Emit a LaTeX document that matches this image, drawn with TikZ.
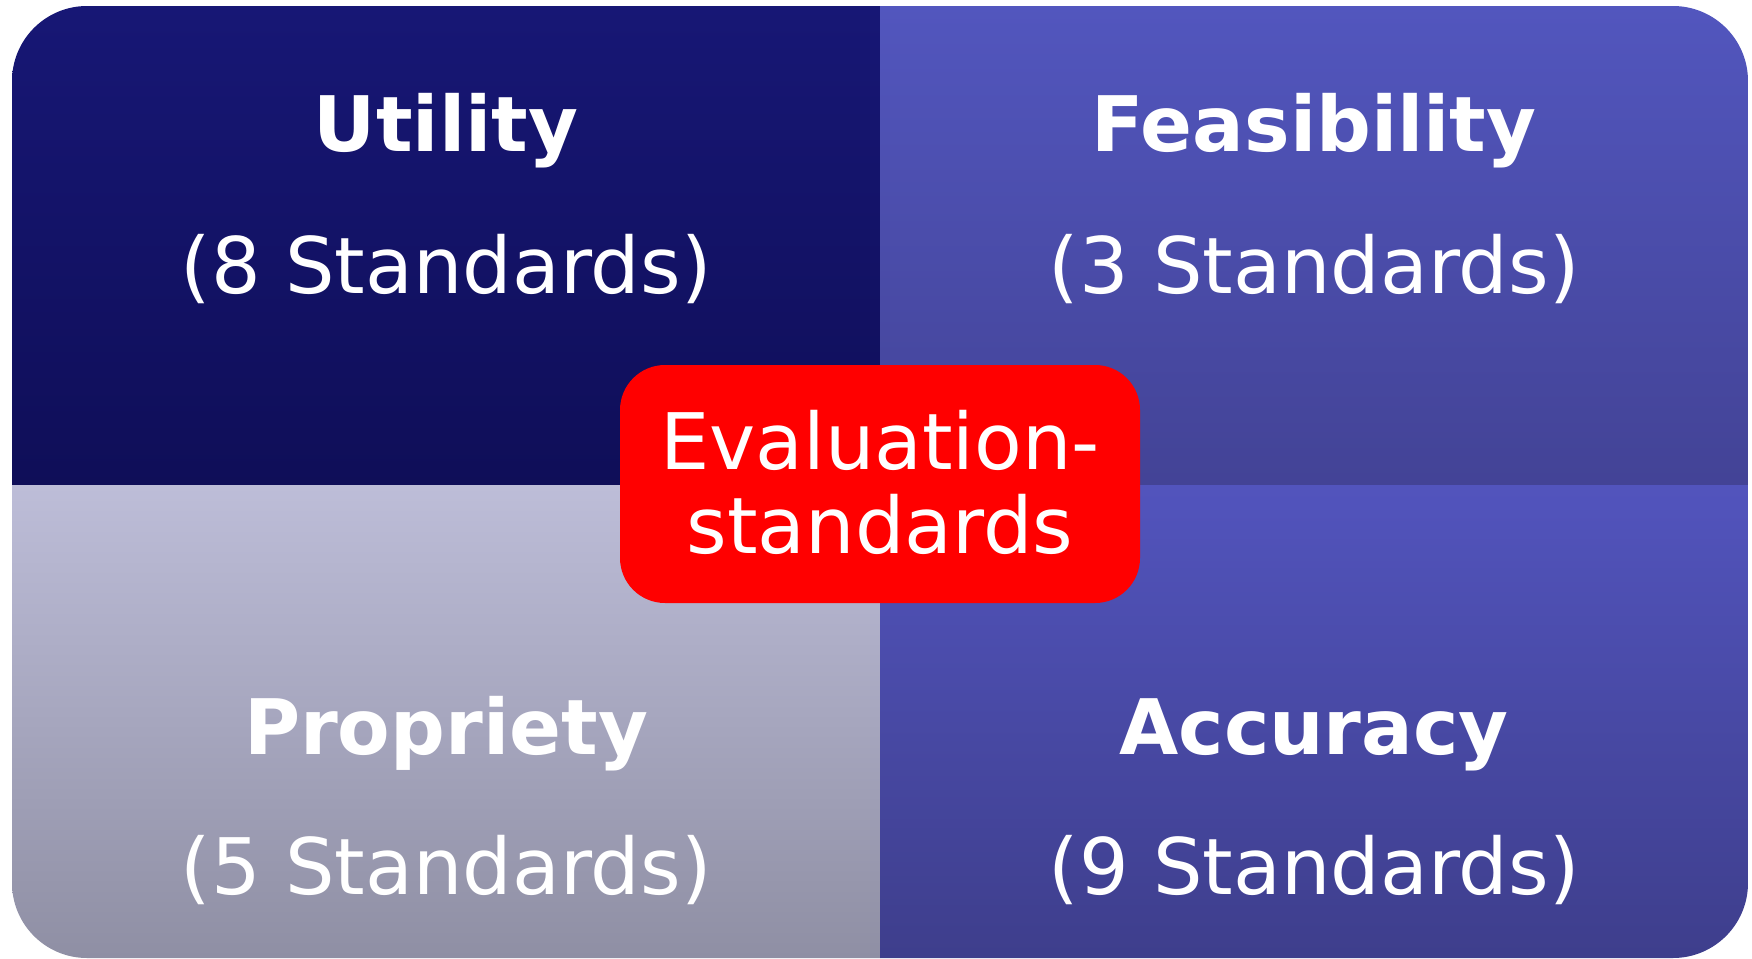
\documentclass[tikz,border=0pt]{standalone}
\usepackage{fontspec}
\setmainfont{DejaVu Sans}
\definecolor{tlTop}{HTML}{171775}
\definecolor{tlBot}{HTML}{0F0E58}
\definecolor{trTop}{HTML}{5256BE}
\definecolor{trBot}{HTML}{434396}
\definecolor{blTop}{HTML}{BDBDD8}
\definecolor{blBot}{HTML}{8F8FA4}
\definecolor{brTop}{HTML}{5254BD}
\definecolor{brBot}{HTML}{3E3E8C}
\definecolor{evred}{HTML}{FF0000}
\tikzset{
  title/.style={text=white, font=\fontsize{38.3}{46}\selectfont\bfseries, anchor=base, inner sep=0pt},
  count/.style={text=white, font=\fontsize{39}{46}\selectfont, anchor=base, inner sep=0pt},
  centerbox/.style={fill=evred, rounded corners=22.5pt, draw=none},
  centertext/.style={text=white, font=\fontsize{39}{46}\selectfont, anchor=base, inner sep=0pt}
}
\begin{document}
\begin{tikzpicture}[x=0.5pt, y=-0.5pt]
\useasboundingbox (0,0) rectangle (1752,959);
\begin{scope}
  \clip[rounded corners=37.5pt] (12,6) rectangle (1748,958);
  \shade[top color=tlTop, bottom color=tlBot] (12,6) rectangle (880,485);
  \shade[top color=trTop, bottom color=trBot] (880,6) rectangle (1748,485);
  \shade[top color=blTop, bottom color=blBot] (12,485) rectangle (880,958);
  \shade[top color=brTop, bottom color=brBot] (880,485) rectangle (1748,958);
\end{scope}
\node[title] (util) at (446,151) {Utility};
\node[count] (utiln) at (446,293) {(8 Standards)};
\node[title] (feas) at (1314,151) {Feasibility};
\node[count] (feasn) at (1314,293) {(3 Standards)};
\node[title] (prop) at (446,754) {Propriety};
\node[count] (propn) at (446,894) {(5 Standards)};
\node[title] (accu) at (1314,754) {Accuracy};
\node[count] (accun) at (1314,894) {(9 Standards)};
\fill[centerbox] (620,365) rectangle (1140,603);
\node[centertext] (ev1) at (880,469) {Evaluation-};
\node[centertext] (ev2) at (880,553) {standards};
\end{tikzpicture}
\end{document}
